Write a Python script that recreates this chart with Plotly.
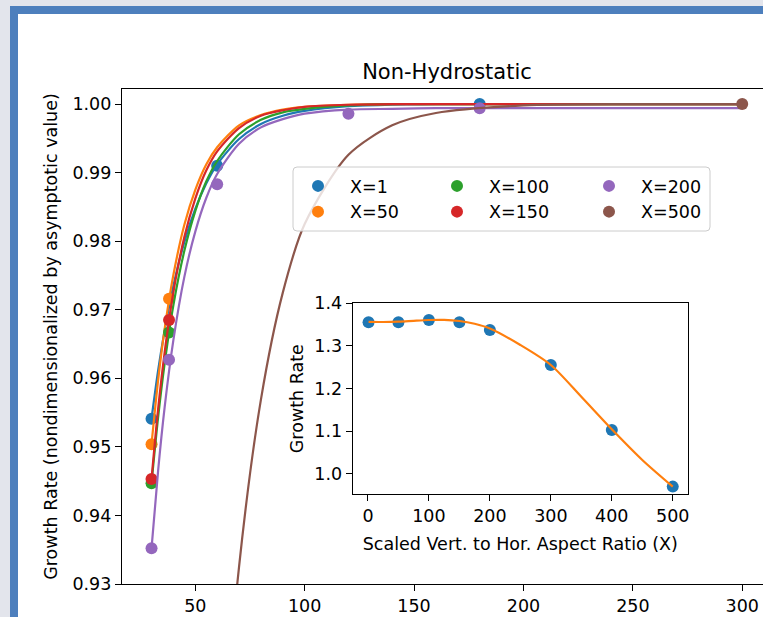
import plotly.graph_objects as go

# ---------------- data ----------------
labels = ["X=1", "X=50", "X=100", "X=150", "X=200", "X=500"]
colors = ["#1f77b4", "#ff7f0e", "#2ca02c", "#d62728", "#9467bd", "#8c564b"]

# measured points per aspect ratio
pts_x = {
    "X=1": [30, 60, 180],
    "X=50": [30, 38],
    "X=100": [30, 38],
    "X=150": [30, 38],
    "X=200": [30, 38, 60, 120, 180],
    "X=500": [300],
}
pts_y = {
    "X=1": [0.9541, 0.9910, 1.0000],
    "X=50": [0.9504, 0.9716],
    "X=100": [0.9447, 0.9667],
    "X=150": [0.9453, 0.9685],
    "X=200": [0.9352, 0.9627, 0.9883, 0.9986, 0.9994],
    "X=500": [1.0000],
}

# fitted curves
curve_x = [30, 33, 36, 40, 45, 50, 55, 60, 70, 80, 90, 100, 120, 140, 160, 200, 250, 300]
curve_y = {
    "X=1": [0.9541, 0.9611, 0.9670, 0.9735, 0.9799, 0.9847, 0.9884, 0.9912, 0.9949, 0.9971,
            0.9983, 0.9990, 0.9997, 0.9999, 1.0000, 1.0000, 1.0000, 1.0000],
    "X=50": [0.9504, 0.9597, 0.9672, 0.9751, 0.9824, 0.9875, 0.9912, 0.9937, 0.9969, 0.9984,
             0.9992, 0.9996, 0.9999, 1.0000, 1.0000, 1.0000, 1.0000, 1.0000],
    "X=100": [0.9447, 0.9543, 0.9622, 0.9707, 0.9786, 0.9844, 0.9887, 0.9917, 0.9956, 0.9977,
              0.9988, 0.9993, 0.9998, 1.0000, 1.0000, 1.0000, 1.0000, 1.0000],
    "X=150": [0.9453, 0.9555, 0.9638, 0.9726, 0.9806, 0.9862, 0.9903, 0.9931, 0.9965, 0.9983,
              0.9991, 0.9996, 0.9999, 1.0000, 1.0000, 1.0000, 1.0000, 1.0000],
    "X=200": [0.9352, 0.9465, 0.9558, 0.9656, 0.9748, 0.9814, 0.9863, 0.9898, 0.9942, 0.9966,
              0.9978, 0.9986, 0.9992, 0.9993, 0.9994, 0.9994, 0.9994, 0.9994],
    "X=500": [0.591, 0.643, 0.688, 0.740, 0.792, 0.834, 0.8674, 0.8941, 0.9325, 0.9569,
              0.9725, 0.9825, 0.9926, 0.9969, 0.9987, 0.9998, 1.0000, 1.0000],
}

# inset: growth rate vs aspect ratio
inset_x = [1, 50, 100, 150, 200, 300, 400, 500]
inset_y = [1.3555, 1.3555, 1.3609, 1.3555, 1.3374, 1.2554, 1.1031, 0.9703]
inset_curve_x = [1, 25, 50, 75, 100, 125, 150, 175, 200, 250, 300, 350, 400, 450, 500]
inset_curve_y = [1.3565, 1.3562, 1.3570, 1.3590, 1.3608, 1.3612, 1.3585, 1.3520, 1.3410,
                 1.3023, 1.2554, 1.1810, 1.1047, 1.0328, 0.9703]

main_xticks = [50, 100, 150, 200, 250, 300]
main_yticks = [0.93, 0.94, 0.95, 0.96, 0.97, 0.98, 0.99, 1.00]
inset_xticks = [0, 100, 200, 300, 400, 500]
inset_yticks = [1.0, 1.1, 1.2, 1.3, 1.4]

# ---------------- figure ----------------
W, H = 763, 617
L, T, B, R = 122, 89, 33, 0
PW, PH = W - L - R, H - T - B


def px(X):
    return (X - L) / PW


def py(Y):
    return (H - B - Y) / PH


FONT = "DejaVu Sans, Verdana, sans-serif"
FS = 17.5

legend_of = {"X=1": "legend", "X=50": "legend", "X=100": "legend2",
             "X=150": "legend2", "X=200": "legend3", "X=500": "legend3"}

fig = go.Figure()
for lab, col in zip(labels, colors):
    fig.add_trace(go.Scatter(
        x=curve_x, y=curve_y[lab], mode="lines",
        line=dict(color=col, width=2.2, shape="spline", smoothing=0.8),
        showlegend=False, hoverinfo="skip"))
    fig.add_trace(go.Scatter(
        x=pts_x[lab], y=pts_y[lab], mode="markers", name=lab,
        marker=dict(color=col, size=12, line=dict(width=0)),
        legend=legend_of[lab]))

# inset
fig.add_trace(go.Scatter(x=inset_x, y=inset_y, mode="markers",
                         marker=dict(color=colors[0], size=12, line=dict(width=0)),
                         xaxis="x2", yaxis="y2", showlegend=False))
fig.add_trace(go.Scatter(x=inset_curve_x, y=inset_curve_y, mode="lines",
                         line=dict(color=colors[1], width=2.2, shape="spline", smoothing=0.8),
                         xaxis="x2", yaxis="y2", showlegend=False))

axis_common = dict(showline=True, linecolor="black", linewidth=1.2, ticks="outside",
                   ticklen=6, tickwidth=1.2, tickcolor="black", showgrid=False,
                   zeroline=False, tickfont=dict(family=FONT, size=FS, color="black"))

ix0, ix1 = px(352.7), px(688)
iy0, iy1 = py(494), py(303.3)

# frame of the window (blue border) and legend box
r_x, r_y = 4 / PW, 4 / PH
lx0, lx1, ly0, ly1 = px(293), px(710), py(231), py(167)
legend_path = (f"M {lx0 + r_x},{ly1} L {lx1 - r_x},{ly1} Q {lx1},{ly1} {lx1},{ly1 - r_y} "
               f"L {lx1},{ly0 + r_y} Q {lx1},{ly0} {lx1 - r_x},{ly0} "
               f"L {lx0 + r_x},{ly0} Q {lx0},{ly0} {lx0},{ly0 + r_y} "
               f"L {lx0},{ly1 - r_y} Q {lx0},{ly1} {lx0 + r_x},{ly1} Z")

shapes = [
    dict(type="rect", xref="paper", yref="paper", x0=px(10), x1=px(900), y0=py(900), y1=py(6),
         fillcolor="#4d7fbd", line=dict(width=0), layer="below"),
    dict(type="rect", xref="paper", yref="paper", x0=px(18), x1=px(900), y0=py(900), y1=py(14),
         fillcolor="white", line=dict(width=0), layer="below"),
    dict(type="path", xref="paper", yref="paper", path=legend_path,
         fillcolor="rgba(255,255,255,0.8)", line=dict(color="#cccccc", width=1), layer="above"),
]

leg_common = dict(bgcolor="rgba(0,0,0,0)", borderwidth=0, itemwidth=54,
                  font=dict(family=FONT, size=FS, color="black"),
                  xref="paper", yref="paper", xanchor="left", yanchor="top",
                  orientation="v", tracegroupgap=0)

fig.update_layout(
    width=W, height=H,
    margin=dict(l=L, r=R, t=T, b=B, autoexpand=False),
    paper_bgcolor="#e3e5ec", plot_bgcolor="white",
    font=dict(family=FONT, size=FS, color="black"),
    title=dict(text="Non-Hydrostatic", font=dict(family=FONT, size=21, color="black"),
               x=px(447), xref="paper", xanchor="center",
               y=1 - 72 / H, yref="container", yanchor="middle"),
    xaxis=dict(axis_common, range=[16.5, 309.5], tickvals=main_xticks, mirror=True,
               domain=[0, 1], anchor="y"),
    yaxis=dict(axis_common, range=[0.93, 1.0022], tickvals=main_yticks, tickformat=".2f",
               mirror=False, domain=[0, 1], anchor="x",
               title=dict(text="Growth Rate (nondimensionalized by asymptotic value)",
                          font=dict(family=FONT, size=FS, color="black"), standoff=10)),
    xaxis2=dict(axis_common, range=[-25, 525], tickvals=inset_xticks, mirror=True,
                domain=[ix0, ix1], anchor="y2",
                title=dict(text="Scaled Vert. to Hor. Aspect Ratio (X)",
                           font=dict(family=FONT, size=FS, color="black"), standoff=12)),
    yaxis2=dict(axis_common, range=[0.953, 1.4], tickvals=inset_yticks, tickformat=".1f",
                mirror=True, domain=[iy0, iy1], anchor="x2",
                title=dict(text="Growth Rate",
                           font=dict(family=FONT, size=FS, color="black"), standoff=6)),
    shapes=shapes,
    legend=dict(leg_common, x=px(286), y=py(168)),
    legend2=dict(leg_common, x=px(425), y=py(168)),
    legend3=dict(leg_common, x=px(577), y=py(168)),
)

fig.write_html("out.html")
